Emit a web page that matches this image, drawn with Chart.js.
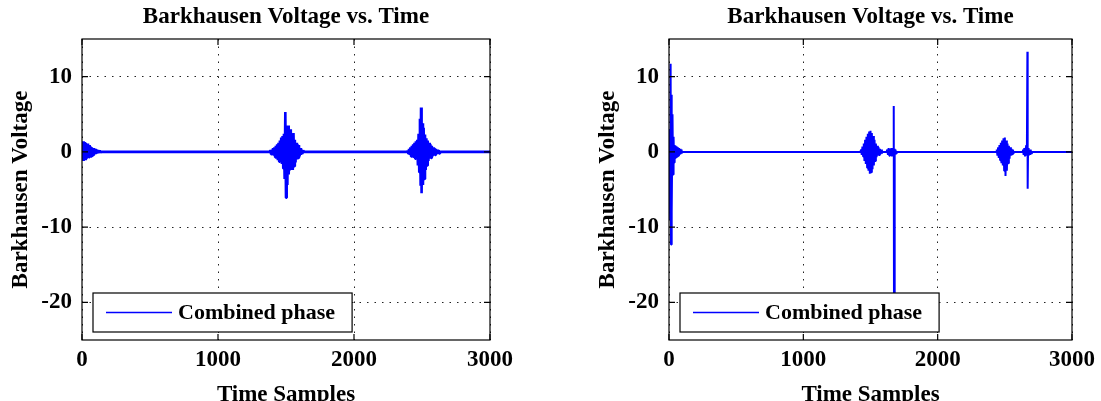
<!DOCTYPE html>
<html>
<head>
<meta charset="utf-8">
<script src="https://cdn.jsdelivr.net/npm/chart.js@4/dist/chart.umd.min.js"></script>
<style>
  html, body { margin: 0; padding: 0; background: #fff; overflow: hidden; }
  canvas { position: absolute; top: 0; }
  #left { left: 0; }
  #right { left: 550px; }
</style>
</head>
<body>
<canvas id="left" width="550" height="410"></canvas>
<canvas id="right" width="551" height="410"></canvas>
<script>
// tick labels
const xTicks = [0, 1000, 2000, 3000];
const yTicks = [-20, -10, 0, 10];

// left plot: sample index / voltage
const leftT = [
  0, 4, 8, 12, 16, 20, 24, 28, 32, 36, 40, 44, 48, 52, 56, 60, 64, 68, 72, 76,
  80, 84, 88, 92, 96, 100, 106, 112, 118, 124, 130, 136, 142,
  1380, 1385, 1390, 1395, 1400, 1405, 1410, 1415, 1420, 1425, 1430, 1435, 1440, 1445, 1450,
  1455, 1460, 1465, 1470, 1475, 1480, 1485, 1490, 1495, 1500, 1505, 1510, 1515, 1520,
  1525, 1530, 1535, 1540, 1545, 1550, 1555, 1560, 1565, 1570, 1575, 1580, 1585, 1590,
  1595, 1600, 1605, 1610, 1615, 1620, 1625, 1630,
  2390, 2395, 2400, 2405, 2410, 2415, 2420, 2425, 2430, 2435, 2440, 2445, 2450, 2455, 2460,
  2465, 2470, 2475, 2480, 2485, 2490, 2493, 2497, 2502, 2507, 2512, 2517, 2522, 2527,
  2532, 2537, 2542, 2547, 2552, 2557, 2562, 2567, 2572, 2577, 2582, 2587, 2592, 2597,
  2602, 2607, 2612, 2617, 2622, 2627, 2632,
  3000
];
const leftV = [
  0.5, -1.1, 1.4, -1.2, 1.3, -1.0, 1.2, -1.1, 1.0, -0.9, 1.1, -0.8, 0.8, -0.7, 0.9, -0.6, 0.7, -0.6, 0.6, -0.5,
  0.5, -0.4, 0.5, -0.3, 0.4, -0.3, 0.3, -0.2, 0.25, -0.15, 0.2, -0.1, 0,
  0, 0.2, -0.3, 0.3, -0.4, 0.5, -0.5, 0.6, -0.7, 0.8, -0.9, 1.0, -1.1, 1.2, -1.3,
  1.5, -1.4, 1.9, -1.6, 2.1, -2.2, 2.4, -3.6, 5.3, -6.1, 3.0, -4.4, 3.5, -3.0,
  2.6, -2.3, 3.0, -2.0, 2.2, -2.4, 2.5, -1.9, 1.6, -1.4, 1.2, -1.0, 1.0, -0.8,
  0.9, -0.6, 0.5, -0.4, 0.3, -0.3, 0.2, 0,
  0, 0.2, -0.3, 0.4, -0.4, 0.6, -0.6, 0.8, -0.7, 1.0, -0.8, 1.2, -0.9, 1.4, -1.0,
  1.6, -1.8, 2.4, -2.7, 4.4, -4.5, 5.9, -5.5, 3.8, -4.4, 3.2, -3.6, 2.3, -2.4,
  1.8, -1.8, 1.5, -1.2, 1.2, -0.9, 1.0, -0.8, 0.8, -0.6, 0.6, -0.5, 0.5, -0.4,
  0.4, -0.3, 0.3, -0.3, 0.2, -0.2, 0,
  0
];

// right plot
const rightT = [
  0, 4, 8, 12, 15, 18, 22, 26, 30, 34, 38, 42, 46, 50, 54, 58, 62, 66, 70, 74,
  78, 82, 86, 90, 94, 98,
  1425, 1430, 1435, 1440, 1445, 1450, 1455, 1460, 1465, 1470, 1475, 1480, 1485, 1490, 1495,
  1500, 1505, 1510, 1515, 1520, 1525, 1530, 1535, 1540, 1545, 1550, 1555, 1560, 1565,
  1570, 1575, 1580, 1585, 1590,
  1620, 1625, 1630, 1635, 1640, 1645, 1650, 1655, 1660, 1665, 1670, 1673, 1675,
  1678, 1682, 1686, 1690, 1695,
  2435, 2440, 2445, 2450, 2455, 2460, 2465, 2470, 2475, 2480, 2485, 2490, 2495, 2500, 2505,
  2510, 2515, 2520, 2525, 2530, 2535, 2540, 2545, 2550, 2555, 2560, 2565, 2570,
  2630, 2635, 2640, 2645, 2650, 2655, 2660, 2664, 2668, 2670, 2673, 2677, 2682,
  2687, 2692, 2697, 2702,
  3000
];
const rightV = [
  0, 3.0, -9.0, 11.7, -12.3, 7.6, -8.0, 5.0, -3.0, 2.0, -1.4, 0.9, -0.8, 0.8, -0.7, 0.7, -0.6, 0.6, -0.5, 0.5,
  -0.4, 0.4, -0.3, 0.3, -0.2, 0,
  0, 0.3, -0.4, 0.7, -0.6, 1.1, -1.2, 1.6, -1.6, 2.0, -2.1, 2.4, -2.5, 2.7, -2.9,
  2.8, -2.7, 2.5, -2.3, 2.1, -1.8, 1.6, -1.2, 1.1, -0.7, 0.8, -0.5, 0.6, -0.4,
  0.4, -0.3, 0.3, -0.2, 0,
  0, 0.3, -0.4, 0.5, -0.5, 0.4, -0.5, 0.5, -0.6, 0.4, 0.3, 6.1, -22,
  0.4, -0.5, 0.3, -0.2, 0,
  0, 0.3, -0.5, 0.6, -0.8, 0.9, -1.1, 1.2, -1.5, 1.5, -1.8, 1.8, -2.5, 1.9, -3.2,
  1.5, -2.5, 1.1, -1.5, 0.8, -0.9, 0.6, -0.5, 0.4, -0.3, 0.3, -0.2, 0,
  0, 0.3, -0.4, 0.5, -0.6, 0.4, 0.9, -0.5, 13.3, -4.9, 0.5, -0.5, 0.3,
  -0.4, 0.3, -0.2, 0,
  0
];

const FONT = "'Liberation Serif', 'Times New Roman', serif";
Chart.defaults.font.family = FONT;
Chart.defaults.font.size = 23;
Chart.defaults.font.weight = 'bold';
Chart.defaults.color = '#000';

// box, inward ticks and the boxed legend, MATLAB style
const frame = {
  id: 'frame',
  afterDatasetsDraw(chart) {
    const { ctx, chartArea: a, scales: { x, y } } = chart;
    ctx.save();
    ctx.strokeStyle = '#000';
    ctx.lineWidth = 1.2;
    ctx.strokeRect(a.left, a.top, a.right - a.left, a.bottom - a.top);
    ctx.beginPath();
    xTicks.forEach(v => {
      const px = x.getPixelForValue(v);
      ctx.moveTo(px, a.bottom); ctx.lineTo(px, a.bottom - 6);
      ctx.moveTo(px, a.top); ctx.lineTo(px, a.top + 6);
    });
    yTicks.forEach(v => {
      const py = y.getPixelForValue(v);
      ctx.moveTo(a.left, py); ctx.lineTo(a.left + 6, py);
      ctx.moveTo(a.right, py); ctx.lineTo(a.right - 6, py);
    });
    ctx.stroke();

    const ds = chart.data.datasets[0];
    ctx.font = 'bold 22px ' + FONT;
    const tw = ctx.measureText(ds.label).width;
    const bx = a.left + 11, bh = 39, by = a.bottom - 8 - bh;
    const bw = 85 + tw + 17;
    ctx.fillStyle = '#fff';
    ctx.fillRect(bx, by, bw, bh);
    ctx.strokeRect(bx, by, bw, bh);
    ctx.strokeStyle = ds.borderColor;
    ctx.lineWidth = 1.3;
    ctx.beginPath();
    ctx.moveTo(bx + 13, by + bh / 2);
    ctx.lineTo(bx + 79, by + bh / 2);
    ctx.stroke();
    ctx.fillStyle = '#000';
    ctx.textBaseline = 'middle';
    ctx.textAlign = 'left';
    ctx.fillText(ds.label, bx + 85, by + bh / 2 + 1);
    ctx.restore();
  }
};

function makeChart(id, t, v, padLeft, padRight, width) {
  new Chart(document.getElementById(id), {
    type: 'line',
    data: {
      datasets: [{
        label: 'Combined phase',
        data: t.map((s, i) => ({ x: s, y: v[i] })),
        borderColor: '#0000ff',
        borderWidth: width,
        borderJoinStyle: 'bevel',
        pointRadius: 0,
        tension: 0
      }]
    },
    options: {
      responsive: false,
      animation: false,
      layout: { padding: { left: padLeft, right: padRight, top: 0, bottom: 0 } },
      plugins: {
        legend: { display: false },
        tooltip: { enabled: false },
        title: {
          display: true,
          text: 'Barkhausen Voltage vs. Time',
          fullSize: false,
          padding: { top: 3, bottom: 8.4 }
        }
      },
      scales: {
        x: {
          type: 'linear',
          min: 0,
          max: 3000,
          afterBuildTicks: s => { s.ticks = xTicks.map(val => ({ value: val })); },
          afterFit: s => { s.height = 70; },
          ticks: { padding: 6, maxRotation: 0, callback: val => String(val) },
          grid: { color: '#222', lineWidth: 1, drawTicks: false },
          border: { display: false, dash: [1.5, 6] },
          title: { display: true, text: 'Time Samples', padding: { top: 0, bottom: 1 } }
        },
        y: {
          min: -25,
          max: 15,
          afterBuildTicks: s => { s.ticks = yTicks.map(val => ({ value: val })); },
          afterFit: s => { s.width = 82; },
          ticks: { padding: 10, callback: val => String(val) },
          grid: { color: '#222', lineWidth: 1, drawTicks: false },
          border: { display: false, dash: [1.5, 6] },
          title: { display: true, text: 'Barkhausen Voltage', padding: { top: 7, bottom: 0 } }
        }
      }
    },
    plugins: [frame]
  });
}

makeChart('left', leftT, leftV, 0, 60, 2.6);
makeChart('right', rightT, rightV, 37, 25, 2);
</script>
</body>
</html>
